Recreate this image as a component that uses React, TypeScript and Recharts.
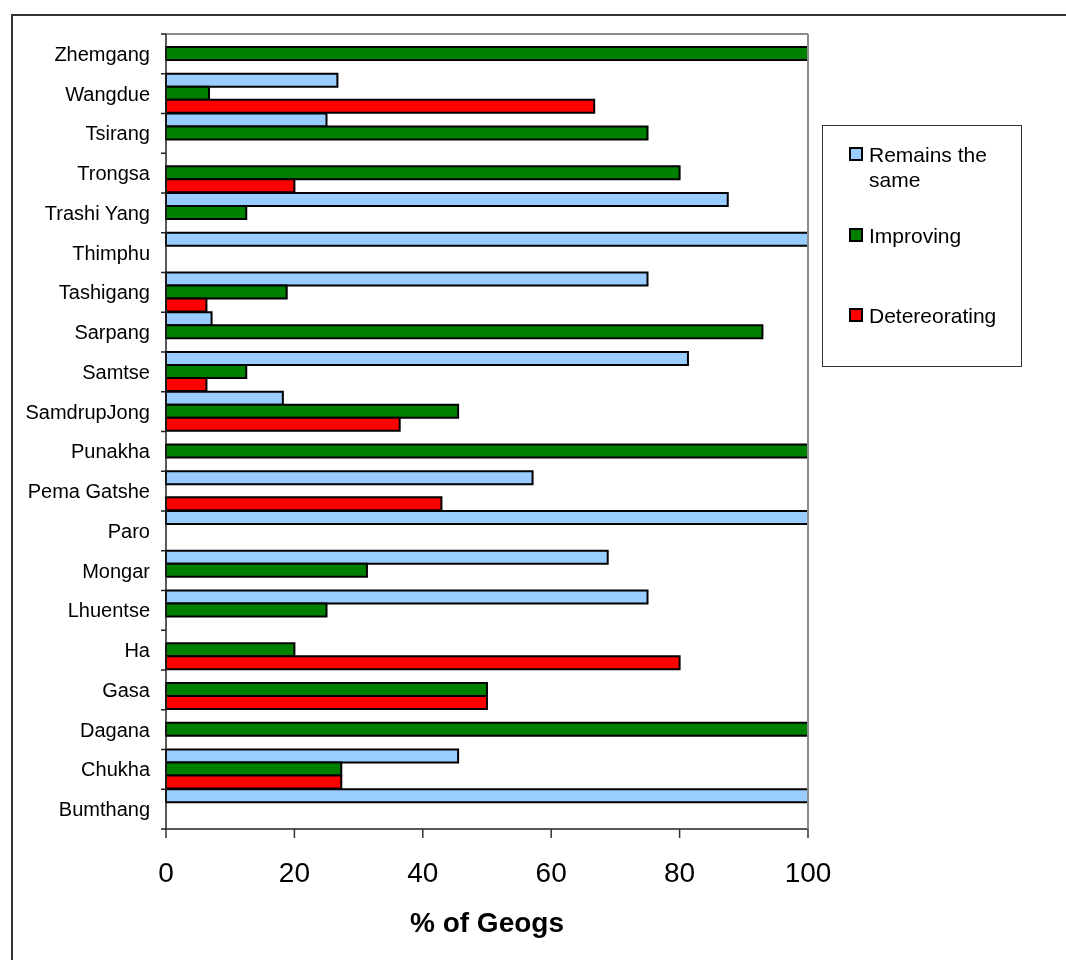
import React from "react";
import { Bar, BarChart, Legend, XAxis, YAxis } from "recharts";

const districts = [
  "Zhemgang",
  "Wangdue",
  "Tsirang",
  "Trongsa",
  "Trashi Yang",
  "Thimphu",
  "Tashigang",
  "Sarpang",
  "Samtse",
  "SamdrupJong",
  "Punakha",
  "Pema Gatshe",
  "Paro",
  "Mongar",
  "Lhuentse",
  "Ha",
  "Gasa",
  "Dagana",
  "Chukha",
  "Bumthang",
];

const remainsSame = [0, 26.7, 25, 0, 87.5, 100, 75, 7.1, 81.3, 18.2, 0, 57.1, 100, 68.8, 75, 0, 0, 0, 45.5, 100];
const improving = [100, 6.7, 75, 80, 12.5, 0, 18.8, 92.9, 12.5, 45.5, 100, 0, 0, 31.3, 25, 20, 50, 100, 27.3, 0];
const deteriorating = [0, 66.7, 0, 20, 0, 0, 6.3, 0, 6.3, 36.4, 0, 42.9, 0, 0, 0, 80, 50, 0, 27.3, 0];

const xTicks = [0, 20, 40, 60, 80, 100];
const seriesOrder = ["remains", "improving", "deteriorating"];

const data = districts.map((name, i) => ({
  name,
  remains: remainsSame[i],
  improving: improving[i],
  deteriorating: deteriorating[i],
}));

const FONT = '"Liberation Sans", Arial, Helvetica, sans-serif';
const W = 1058;
const H = 944;
// the top / right axes are 1px wide and only draw the grey plot-area border
const MARGIN = { top: 25, right: 257, bottom: 0, left: 0 };
const EDGE_AXIS = 1;
const Y_AXIS_W = 158;
const X_AXIS_H = 123;
const PLOT_H = H - MARGIN.top - EDGE_AXIS - MARGIN.bottom - X_AXIS_H;
const BAND = PLOT_H / districts.length;

// category labels centred in the band, tick marks on the band edges (Excel style)
function CategoryTick(props: any) {
  const { y, payload, index } = props;
  const half = BAND / 2;
  return (
    <g>
      <line x1={Y_AXIS_W - 5} x2={Y_AXIS_W} y1={y - half} y2={y - half} stroke="#222" strokeWidth={1.5} />
      {index === districts.length - 1 && (
        <line x1={Y_AXIS_W - 5} x2={Y_AXIS_W} y1={y + half} y2={y + half} stroke="#222" strokeWidth={1.5} />
      )}
      <text x={Y_AXIS_W - 16} y={y} dy="0.35em" textAnchor="end" fontSize={20} fill="#000" fontFamily={FONT}>
        {payload.value}
      </text>
    </g>
  );
}

const itemTops = [16, 97, 177];

function LegendBox(props: any) {
  const items = [...(props.payload || [])].sort(
    (a: any, b: any) => seriesOrder.indexOf(a.dataKey) - seriesOrder.indexOf(b.dataKey)
  );
  return (
    <div
      style={{
        position: "relative",
        width: 200,
        height: 242,
        boxSizing: "border-box",
        border: "1.5px solid #333",
        background: "#fff",
        fontFamily: FONT,
        fontSize: 21,
        color: "#000",
      }}
    >
      {items.map((item: any, i: number) => (
        <div key={item.value} style={{ position: "absolute", left: 26, top: itemTops[i], display: "flex" }}>
          <span
            style={{
              width: 14,
              height: 14,
              marginTop: 5,
              marginRight: 6,
              boxSizing: "border-box",
              border: "2px solid #000",
              background: item.color,
              flex: "none",
            }}
          />
          <span style={{ width: 140, lineHeight: "25px" }}>{item.value}</span>
        </div>
      ))}
    </div>
  );
}

export default function App() {
  return (
    <div style={{ position: "relative", width: W, height: H, fontFamily: FONT }}>
      {/* outer chart-area frame, running off the right and bottom edges */}
      <div
        style={{
          position: "fixed",
          left: 11,
          top: 14,
          right: -20,
          bottom: -20,
          borderLeft: "2px solid #333",
          borderTop: "2px solid #333",
          pointerEvents: "none",
        }}
      />
      <BarChart
        width={W}
        height={H}
        data={data}
        layout="vertical"
        margin={MARGIN}
        barCategoryGap={0}
        barGap={0}
      >
        <XAxis
          type="number"
          domain={[0, 100]}
          ticks={xTicks}
          interval={0}
          height={X_AXIS_H}
          axisLine={{ stroke: "#222", strokeWidth: 1.5 }}
          tickLine={{ stroke: "#333", strokeWidth: 1.5 }}
          tickSize={9}
          tickMargin={24}
          tick={{ fontSize: 28, fill: "#000", fontFamily: FONT }}
          label={{
            value: "% of Geogs",
            position: "insideBottom",
            offset: 20,
            fontSize: 28,
            fontWeight: "bold",
            fill: "#000",
            fontFamily: FONT,
          }}
        />
        <XAxis
          xAxisId="top"
          orientation="top"
          type="number"
          domain={[0, 100]}
          height={EDGE_AXIS}
          tick={false}
          tickLine={false}
          axisLine={{ stroke: "#8c8c8c", strokeWidth: 2 }}
        />
        <YAxis
          type="category"
          dataKey="name"
          width={Y_AXIS_W}
          interval={0}
          tickLine={false}
          axisLine={{ stroke: "#222", strokeWidth: 1.5 }}
          tick={<CategoryTick />}
        />
        <YAxis
          yAxisId="right"
          orientation="right"
          type="category"
          dataKey="name"
          width={EDGE_AXIS}
          tick={false}
          tickLine={false}
          axisLine={{ stroke: "#8c8c8c", strokeWidth: 2 }}
        />
        <Legend
          layout="vertical"
          align="center"
          verticalAlign="middle"
          wrapperStyle={{ left: 814, top: 117, width: 200 }}
          content={<LegendBox />}
        />
        <Bar dataKey="remains" name="Remains the same" fill="#99ccff" stroke="#000" strokeWidth={2} isAnimationActive={false} />
        <Bar dataKey="improving" name="Improving" fill="#008000" stroke="#000" strokeWidth={2} isAnimationActive={false} />
        <Bar dataKey="deteriorating" name="Detereorating" fill="#ff0000" stroke="#000" strokeWidth={2} isAnimationActive={false} />
      </BarChart>
    </div>
  );
}
